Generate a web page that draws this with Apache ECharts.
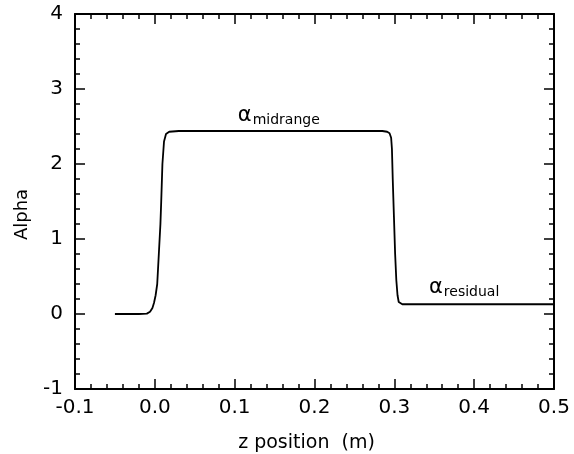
<!DOCTYPE html>
<html>
<head>
<meta charset="utf-8">
<script src="https://cdn.jsdelivr.net/npm/echarts@6/dist/echarts.min.js"></script>
<style>
html,body{margin:0;padding:0;background:#fff;}
#chart{width:574px;height:454px;}
</style>
</head>
<body>
<div id="chart"></div>
<script>
// z position (m)
const zPos = [-0.05, -0.02, -0.01, -0.006, -0.003, -0.001, 0.001, 0.003, 0.005, 0.007, 0.008, 0.0095, 0.0115, 0.014, 0.018, 0.03, 0.1, 0.2, 0.285, 0.291, 0.294, 0.296, 0.297, 0.298, 0.2995, 0.301, 0.3025, 0.304, 0.3055, 0.307, 0.31, 0.4, 0.5];
// alpha values
const alpha = [0, 0, 0.005, 0.03, 0.08, 0.15, 0.25, 0.4, 0.8, 1.2, 1.5, 2.0, 2.3, 2.4, 2.43, 2.44, 2.44, 2.44, 2.44, 2.43, 2.41, 2.35, 2.2, 1.8, 1.3, 0.8, 0.45, 0.25, 0.16, 0.135, 0.13, 0.13, 0.13];
const xTicks = [-0.1, 0.0, 0.1, 0.2, 0.3, 0.4, 0.5];
const yTicks = [-1, 0, 1, 2, 3, 4];
// annotations: [x, y, subscript]
const annotations = [[0.104, 2.64, 'midrange'], [0.3434, 0.347, 'residual']];

const font = 'DejaVu Sans';
const chart = echarts.init(document.getElementById('chart'));
const axisCommon = {
  axisLine: {show: true, onZero: false, lineStyle: {color: '#000', width: 2}},
  axisTick: {show: true, inside: true, length: 10, lineStyle: {color: '#000', width: 1.5}},
  minorTick: {show: true, splitNumber: 5, length: 5, lineStyle: {color: '#000', width: 1.5}},
  splitLine: {show: false}
};
chart.setOption({
  animation: false,
  grid: {left: 75, right: 20, top: 14, bottom: 65, containLabel: false, outerBoundsMode: 'none'},
  xAxis: [
    Object.assign({
      type: 'value', position: 'bottom',
      min: xTicks[0], max: xTicks[xTicks.length - 1], interval: 0.1,
      axisLabel: {color: '#000', fontSize: 20, fontFamily: font, margin: 9,
        formatter: v => v.toFixed(1)},
      name: 'z position  (m)', nameLocation: 'middle', nameGap: 45,
      nameTextStyle: {color: '#000', fontSize: 19, fontFamily: font, padding: [0, 16, 0, 0]}
    }, axisCommon),
    Object.assign({
      type: 'value', position: 'top',
      min: xTicks[0], max: xTicks[xTicks.length - 1], interval: 0.1,
      axisLabel: {show: false}
    }, axisCommon)
  ],
  yAxis: [
    Object.assign({
      type: 'value', position: 'left',
      min: yTicks[0], max: yTicks[yTicks.length - 1], interval: 1,
      axisLabel: {color: '#000', fontSize: 20, fontFamily: font, margin: 12},
      name: 'Alpha', nameLocation: 'middle', nameGap: 44,
      nameTextStyle: {color: '#000', fontSize: 18, fontFamily: font, padding: [0, 0, 0, -26]}
    }, axisCommon),
    Object.assign({
      type: 'value', position: 'right',
      min: yTicks[0], max: yTicks[yTicks.length - 1], interval: 1,
      axisLabel: {show: false}
    }, axisCommon)
  ],
  series: [{
    type: 'line',
    data: zPos.map((z, i) => [z, alpha[i]]),
    showSymbol: false,
    lineStyle: {color: '#000', width: 1.8},
    markPoint: {
      symbol: 'circle', symbolSize: 0,
      label: {
        show: true, position: 'right', distance: 0,
        formatter: p => '{a|α}{s|' + p.name + '}',
        rich: {
          a: {fontSize: 21, fontFamily: font, color: '#000'},
          s: {fontSize: 14, fontFamily: font, color: '#000', padding: [9, 0, 0, 1]}
        }
      },
      data: annotations.map(a => ({name: a[2], coord: [a[0], a[1]]}))
    }
  }]
});
</script>
</body>
</html>
